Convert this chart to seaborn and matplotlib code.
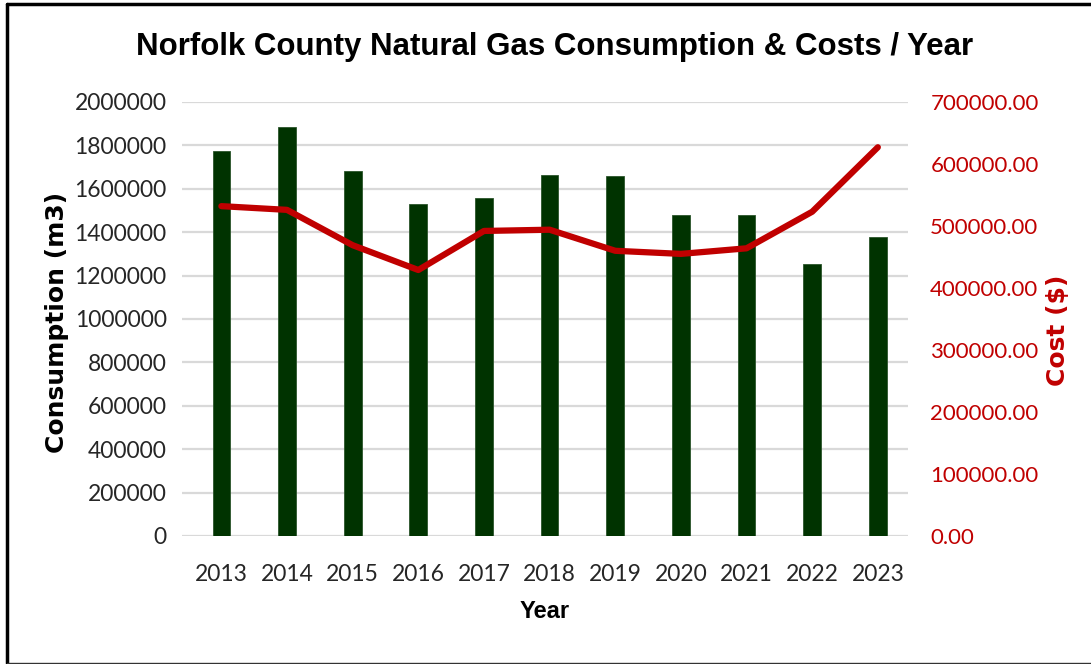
import numpy as np
import pandas as pd
import matplotlib
matplotlib.use("Agg")
import matplotlib.pyplot as plt
from matplotlib.lines import Line2D
import seaborn as sns

years = ["2013", "2014", "2015", "2016", "2017", "2018", "2019", "2020", "2021", "2022", "2023"]
consumption = [1774000, 1883000, 1683000, 1530000, 1556000, 1665000, 1659000, 1478000, 1478000, 1253000, 1376000]
cost = [532000, 526000, 469000, 429000, 492000, 494000, 460000, 455000, 464000, 523000, 627000]
cons_ticks = list(range(0, 2000001, 200000))
cost_ticks = list(range(0, 700001, 100000))

df = pd.DataFrame({"Year": years, "Consumption": consumption, "Cost": cost})

sns.set_style("white")
plt.rcParams['font.family'] = ['Lato', 'DejaVu Sans']
arial = ['Liberation Sans', 'DejaVu Sans']

fig = plt.figure(figsize=(10.91, 6.64), dpi=100)
ax = fig.add_axes([0.1668, 0.1928, 0.6655, 0.6536])

# bars - consumption
sns.barplot(data=df, x="Year", y="Consumption", color="#003300", width=0.27,
            saturation=1, edgecolor="#2b552b", linewidth=0.6, ax=ax)
ax.set_ylim(0, 2000000)
ax.set_yticks(cons_ticks)
ax.set_yticklabels([str(t) for t in cons_ticks])
ax.set_xlim(-0.6, 10.46)
ax.yaxis.grid(True, color="#D9D9D9", linewidth=1.6)
ax.set_axisbelow(True)
sns.despine(ax=ax, left=True, bottom=True)
ax.tick_params(length=0, labelsize=16.5, labelcolor="#262626")
ax.tick_params(axis='y', pad=11)
ax.tick_params(axis='x', pad=20)

ax.set_xlabel("Year", fontsize=17, fontweight='bold', family=arial, color='black')
ax.xaxis.set_label_coords(0.5, -0.147)
ax.set_ylabel("Consumption (m3)", fontsize=18, fontweight='bold',
              family='DejaVu Sans', va='center', color='black')
ax.yaxis.set_label_coords(-0.172, 0.491)

# line - cost
ax2 = ax.twinx()
sns.lineplot(x=np.arange(len(years)), y=df["Cost"], color="#C00000", linewidth=4.5,
             solid_capstyle='round', solid_joinstyle='round', ax=ax2)
ax2.set_ylim(0, 700000)
ax2.set_yticks(cost_ticks)
ax2.set_yticklabels([f"{t:.2f}" for t in cost_ticks])
ax2.grid(False)
sns.despine(ax=ax2, left=True, right=True, bottom=True, top=True)
ax2.tick_params(length=0, labelsize=16, labelcolor="#C00000", pad=16)
ax2.set_ylabel("Cost ($)", fontsize=18, fontweight='bold', family='DejaVu Sans',
               color="#C00000", rotation=90, va='center')
ax2.yaxis.set_label_coords(1.207, 0.475)

fig.text(0.5087, 0.929, "Norfolk County Natural Gas Consumption & Costs / Year",
         ha='center', va='center', fontsize=22.5, fontweight='bold', family=arial,
         color='black')

# frame around the chart
x0 = 7 / 1091
fig.add_artist(Line2D([x0, x0], [1 / 664, 1 - 4 / 664], transform=fig.transFigure,
                      color='black', linewidth=2.5))
fig.add_artist(Line2D([x0, 1.0], [1 - 4 / 664, 1 - 4 / 664], transform=fig.transFigure,
                      color='black', linewidth=2.5))
fig.add_artist(Line2D([x0, 1.0], [1 / 664, 1 / 664], transform=fig.transFigure,
                      color='#333333', linewidth=1))

fig.savefig("out.png", dpi=100)
